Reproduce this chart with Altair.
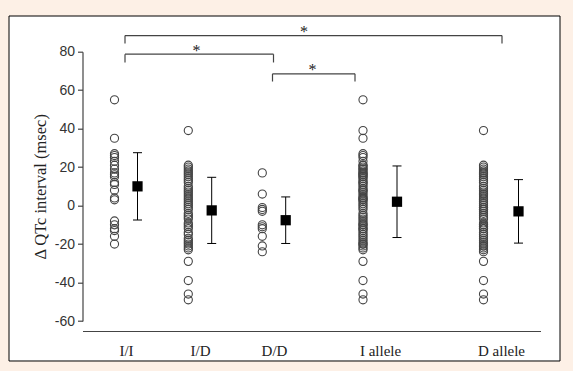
import altair as alt
import pandas as pd

# ---- data ----
groups = ["I/I", "I/D", "D/D", "I allele", "D allele"]

values_ii = [55, 35, 27, 26, 25, 23, 21, 19, 17, 16, 15, 12, 11, 8, 4, 3,
             -8, -10, -12, -13, -16, -20]
values_id = [39, 21, 20, 19, 18, 17, 16, 15, 14, 13, 12, 10, 9, 8, 7, 6, 5, 4, 3, 2, 1, 0,
             -1, -2, -4, -5, -6, -7, -9, -10, -11, -12, -14, -15, -17, -18, -19,
             -20, -21, -22, -23, -29, -39, -46, -49]
values_dd = [17, 6, -1, -2, -3, -10, -11, -12, -16, -21, -24]
values_i_allele = [55, 39, 35, 27, 26, 25, 23, 21, 21, 20, 19, 19, 18, 17, 17, 16, 16, 15, 15,
                   14, 13, 12, 12, 11, 10, 9, 8, 8, 7, 6, 5, 4, 4, 3, 3, 2, 1, 0,
                   -1, -2, -4, -5, -6, -7, -8, -9, -10, -10, -11, -12, -12, -13, -14, -15,
                   -16, -17, -18, -19, -20, -20, -21, -22, -23, -29, -39, -46, -49]
values_d_allele = [39, 21, 20, 19, 18, 17, 17, 16, 15, 14, 13, 12, 10, 9, 8, 7, 6, 6, 5, 4, 3,
                   2, 1, 0, -1, -1, -2, -2, -3, -4, -5, -6, -7, -9, -10, -10, -11, -11, -12,
                   -12, -14, -15, -16, -17, -18, -19, -20, -21, -21, -22, -23, -24, -29,
                   -39, -46, -49]
group_values = [values_ii, values_id, values_dd, values_i_allele, values_d_allele]

means = [10, -2.5, -7.6, 2, -3]
sds = [17.5, 17.2, 12.1, 18.6, 16.5]

# significance brackets (x in plot units, y in msec)
bracket_x1 = [42.5, 42.5, 190]
bracket_x2 = [419.5, 191, 272.5]
bracket_top = [88.4, 78.7, 68.5]
bracket_drop = [4.2, 4.3, 4.0]
star_x = [221.5, 114, 230]
star_label = ["*", "*", "*"]

y_ticks = [-60, -40, -20, 0, 20, 40, 60, 80]

# ---- layout (not data) ----
W, H = 458, 269.3
group_center = [43.5, 117.5, 191.5, 297.5, 418.5]
half_gap = [11.5, 11.7, 11.7, 17, 17.5]
cap = 4.5

pts = pd.DataFrame(
    [{"group": g, "value": v, "cx": c - h}
     for g, vals, c, h in zip(groups, group_values, group_center, half_gap) for v in vals]
)
stats = pd.DataFrame({
    "group": groups,
    "mean": means,
    "lo": [m - s for m, s in zip(means, sds)],
    "hi": [m + s for m, s in zip(means, sds)],
    "sx": [c + h for c, h in zip(group_center, half_gap)],
    "cl": [c + h - cap for c, h in zip(group_center, half_gap)],
    "cr": [c + h + cap for c, h in zip(group_center, half_gap)],
})
br = pd.DataFrame({
    "x1": bracket_x1, "x2": bracket_x2, "top": bracket_top,
    "bot": [t - d for t, d in zip(bracket_top, bracket_drop)],
    "sx": star_x, "star": star_label,
})

xs = alt.Scale(domain=[0, W], nice=False, zero=False)
ys = alt.Scale(domain=[-60, 80], nice=False, zero=False)

label_expr = "[" + ",".join("'%s'" % g for g in groups) + "][indexof([" + \
    ",".join(str(c) for c in group_center) + "], datum.value)]"

x_axis = alt.Axis(values=group_center, labelExpr=label_expr, ticks=False, grid=False,
                  domain=True, domainColor="#444", domainWidth=1.2, offset=10,
                  labelFont="Liberation Serif", labelFontSize=15, labelColor="#222",
                  labelPadding=12, labelFlush=False, title=None, zindex=1)
y_axis = alt.Axis(values=y_ticks, labelExpr="datum.value + ''", tickSize=5,
                  tickColor="#444", domainColor="#444",
                  domainWidth=1.2, tickWidth=1.2, grid=False, labelPadding=3,
                  labelFont="Liberation Sans", labelFontSize=14, labelColor="#333",
                  title="Δ QTc interval (msec)", titleFont="Liberation Serif",
                  titleFontSize=16.5, titleFontWeight="normal", titleColor="#222",
                  titlePadding=6, zindex=1)


def X(f):
    return alt.X(f, scale=xs, axis=x_axis)


def Y(f):
    return alt.Y(f, scale=ys, axis=y_axis)


frame = alt.Chart(pd.DataFrame({"a": [0]})).mark_rect(
    fill="white", stroke="black", strokeWidth=1
).encode(x=alt.value(-73.5), x2=alt.value(477.5), y=alt.value(-35.7), y2=alt.value(309.3))

circles = alt.Chart(pts).mark_point(
    shape="circle", filled=False, size=66, stroke="#444", strokeWidth=1.1, opacity=1
).encode(x=X("cx:Q"), y=Y("value:Q"))

bars = alt.Chart(stats).mark_rule(color="black", strokeWidth=1).encode(
    x=X("sx:Q"), y=Y("lo:Q"), y2="hi:Q"
)
cap_lo = alt.Chart(stats).mark_rule(color="black", strokeWidth=1).encode(
    x=X("cl:Q"), x2="cr:Q", y=Y("lo:Q")
)
cap_hi = alt.Chart(stats).mark_rule(color="black", strokeWidth=1).encode(
    x=X("cl:Q"), x2="cr:Q", y=Y("hi:Q")
)
squares = alt.Chart(stats).mark_point(
    shape="square", filled=True, size=105, color="black", opacity=1
).encode(x=X("sx:Q"), y=Y("mean:Q"))

bk_color = "#444"
br_h = alt.Chart(br).mark_rule(color=bk_color, strokeWidth=1.2).encode(
    x=X("x1:Q"), x2="x2:Q", y=Y("top:Q")
)
br_l = alt.Chart(br).mark_rule(color=bk_color, strokeWidth=1.2).encode(
    x=X("x1:Q"), y=Y("top:Q"), y2="bot:Q"
)
br_r = alt.Chart(br).mark_rule(color=bk_color, strokeWidth=1.2).encode(
    x=X("x2:Q"), y=Y("top:Q"), y2="bot:Q"
)
stars = alt.Chart(br).mark_text(
    font="Liberation Serif", fontSize=16, color="#222", baseline="alphabetic", dy=1.5
).encode(x=X("sx:Q"), y=Y("top:Q"), text="star:N")

chart = alt.layer(
    frame, circles, bars, cap_lo, cap_hi, squares, br_h, br_l, br_r, stars
).properties(
    width=W, height=H,
    autosize=alt.AutoSizeParams(type="none"),
    padding={"left": 82.5, "top": 51.7, "right": 32.5, "bottom": 50},
    background="#FDF0E6",
).configure_view(stroke=None)

chart.save("out.html", embed_options={"renderer": "svg", "actions": False})
